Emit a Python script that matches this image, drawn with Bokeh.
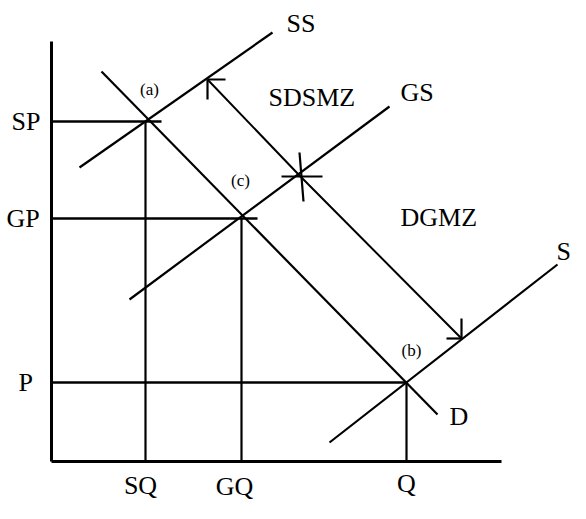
from bokeh.plotting import figure
from bokeh.models import Range1d
from bokeh.core.properties import value
from bokeh.embed import file_html
from bokeh.resources import INLINE

# ---- diagram data (canvas units: x to the right, y downward) ----
axis_origin = (52, 462)
axis_top = 42
axis_right = 502

quantity_labels = ["SQ", "GQ", "Q"]
quantity_x = [146, 242, 407]
quantity_label_x = [141, 235, 407]
quantity_label_y = [486, 487, 484]
price_labels = ["SP", "GP", "P"]
price_y = [122, 219, 383]
price_label_x = [12, 7, 19]
guide_end_x = [162, 258, 407]

curve_names = ["SS", "GS", "S", "D"]
curve_x0 = [80, 130, 330, 102]
curve_y0 = [168, 300, 443, 72]
curve_x1 = [273, 390, 558, 438]
curve_y1 = [33, 107, 265, 415]
curve_label_x = [287, 401, 557, 450]
curve_label_y = [24, 93, 252, 417]

arrow_x = [208, 300, 462]
arrow_y = [80, 176, 339]

point_labels = ["(a)", "(c)", "(b)"]
point_x = [150, 241, 412]
point_y = [90, 181, 351]

zone_labels = ["SDSMZ", "DGMZ"]
zone_x = [269, 401]
zone_y = [98, 218]

W, H = 570, 503
p = figure(width=W, height=H, output_backend="svg", toolbar_location=None,
           x_range=Range1d(1, 1 + W), y_range=Range1d(1 + H, 1),
           min_border=0, outline_line_color=None, background_fill_color="white")
p.axis.visible = False
p.grid.visible = False

ox, oy = axis_origin
# axes
p.segment(x0=[ox, ox], y0=[axis_top, oy], x1=[ox, axis_right], y1=[oy, oy],
          line_color="black", line_width=3)
# price guides
p.segment(x0=[ox] * 3, y0=price_y, x1=guide_end_x, y1=price_y,
          line_color="black", line_width=2.6)
# quantity guides
p.segment(x0=quantity_x, y0=price_y, x1=quantity_x, y1=[oy] * 3,
          line_color="black", line_width=2.2)
# curves
p.segment(x0=curve_x0, y0=curve_y0, x1=curve_x1, y1=curve_y1,
          line_color="black", line_width=2.2)
# arrow line
p.line(arrow_x, arrow_y, line_color="black", line_width=2)
# arrow heads / marks
ax0, ay0 = arrow_x[0], arrow_y[0]
ax1, ay1 = arrow_x[1], arrow_y[1]
ax2, ay2 = arrow_x[2], arrow_y[2]
p.segment(x0=[ax0, ax0, ax1 - 18, ax1, ax2, ax2 - 15],
          y0=[ay0, ay0, ay1 + 1, ay1 - 23, ay2 - 20, ay2],
          x1=[ax0 + 18, ax0, ax1 + 23, ax1 + 4, ax2, ax2],
          y1=[ay0, ay0 + 20, ay1 + 1, ay1 + 26, ay2, ay2],
          line_color="black", line_width=2.2)

font = value("Liberation Serif")
big = "26px"
p.text(x=price_label_x, y=price_y, text=price_labels, text_font=font,
       text_font_size=big, text_align="left", text_baseline="middle")
p.text(x=quantity_label_x, y=quantity_label_y, text=quantity_labels, text_font=font,
       text_font_size=big, text_align="center", text_baseline="middle")
p.text(x=curve_label_x, y=curve_label_y, text=curve_names, text_font=font,
       text_font_size=big, text_align="left", text_baseline="middle")
p.text(x=zone_x, y=zone_y, text=zone_labels, text_font=font,
       text_font_size=big, text_align="left", text_baseline="middle")
p.text(x=point_x, y=point_y, text=point_labels, text_font=font,
       text_font_size="17px", text_align="center", text_baseline="middle")

open("out.html", "w").write(file_html(p, INLINE))
